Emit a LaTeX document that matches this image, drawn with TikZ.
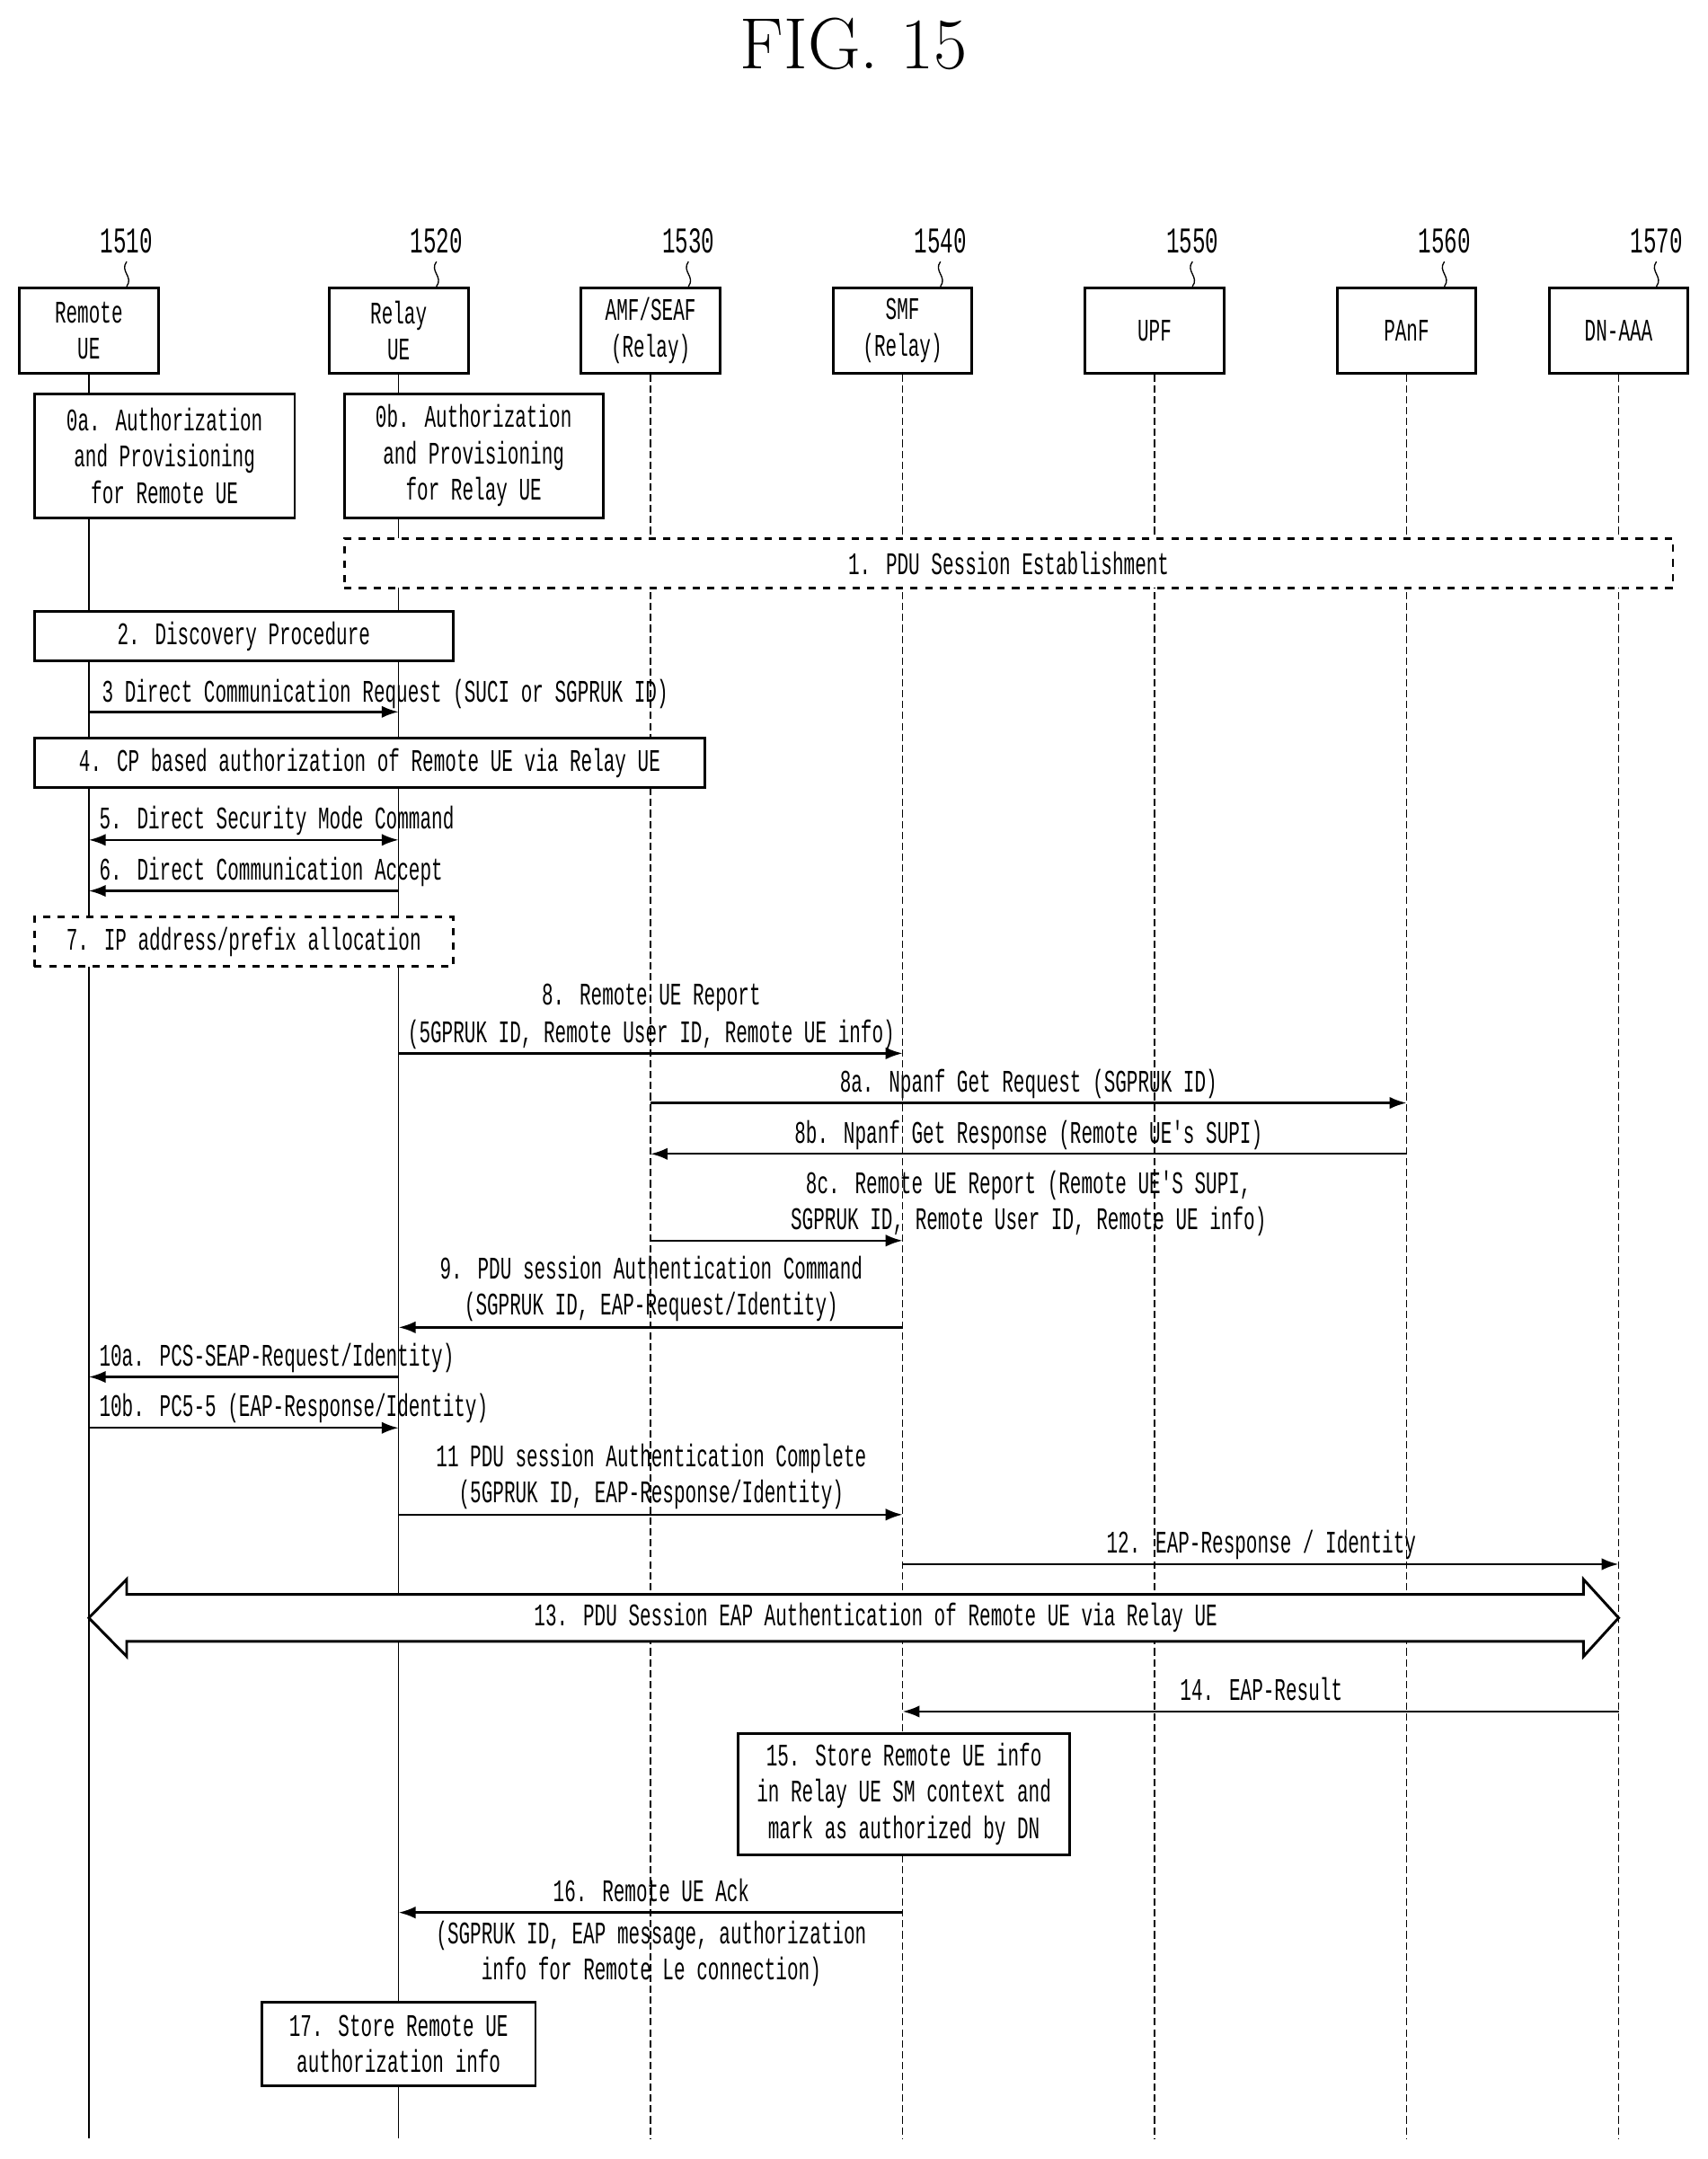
\documentclass[tikz,border=0pt]{standalone}
\usepackage{fontspec}
\newfontfamily\diagfont[FakeStretch=0.6]{Liberation Mono}
\usetikzlibrary{positioning,arrows.meta}
\begin{document}
\begin{tikzpicture}[x=0.02cm,y=-0.02cm,
	every node/.style={font=\diagfont\fontsize{13}{15}\selectfont},
	ent/.style={draw,line width=1.1pt,minimum width=2.02cm,minimum height=1.24cm,align=center,inner sep=0pt},
	stepbox/.style={draw,line width=1pt,align=center,inner sep=0pt},
	lifeA/.style={line width=0.5pt},
	lifeB/.style={line width=0.5pt,dash pattern=on 3pt off 1.5pt},
	msg/.style={line width=0.9pt,-{Latex[length=7pt,width=5pt]}},
	lbl/.style={inner sep=1pt,anchor=base}]
\useasboundingbox (0,0) rectangle (1240,1568);
\fill[white] (0,0) rectangle (1240,1568);
%Title
\node[font=\fontsize{30}{34}\selectfont] (title) at (620,32) {FIG. 15};
%Entities
\node[ent] (h1) at (64.5,240) {Remote\\UE};
\node[ent] (h2) at (289.5,240) {Relay\\UE};
\node[ent] (h3) at (472.5,240) {AMF/SEAF\\(Relay)};
\node[ent] (h4) at (655.5,240) {SMF\\(Relay)};
\node[ent] (h5) at (838.5,240) {UPF};
\node[ent] (h6) at (1021.5,240) {PAnF};
\node[ent] (h7) at (1175.5,240) {DN-AAA};
%Reference numbers
\foreach \n/\x in {h1/1510,h2/1520,h3/1530,h4/1540,h5/1550,h6/1560,h7/1570} {
	\node[font=\fontsize{15}{17}\selectfont\diagfont,anchor=south] (n\n) at ([xshift=0.55cm]\n.north |- 0,190) {\x};
	\draw[line width=0.5pt] (n\n.south) .. controls ([xshift=-3pt,yshift=-4pt]n\n.south) and ([xshift=3pt,yshift=4pt]\n.north -| n\n.south) .. (\n.north -| n\n.south);
}
%Lifelines
\coordinate (b1) at (h1.south |- 0,1553);
\coordinate (b2) at (h2.south |- 0,1553);
\draw[lifeA] (h1.south) -- (b1);
\draw[lifeA] (h2.south) -- (b2);
\foreach \i in {3,...,7} {
	\draw[lifeB] (h\i.south) -- (h\i.south |- 0,1553);
}
%0a and 0b
\node[stepbox,fill=white,minimum width=3.78cm,minimum height=1.8cm] (s0a) at (119.5,331) {0a. Authorization\\and Provisioning\\for Remote UE};
\node[stepbox,fill=white,minimum width=3.76cm,minimum height=1.8cm] (s0b) at (344,331) {0b. Authorization\\and Provisioning\\for Relay UE};
%1
\node[stepbox,dashed,fill=white,minimum width=19.3cm,minimum height=0.72cm] (s1) at (732.5,409) {1. PDU Session Establishment};
%2
\node[stepbox,fill=white,minimum width=6.08cm,minimum height=0.72cm] (s2) at (177,462) {2. Discovery Procedure};
%3
\draw[msg] (h1 |- 0,517) -- (h2 |- 0,517);
\node[lbl,anchor=base west] (t3) at (72,510) {3 Direct Communication Request (SUCI or SGPRUK ID)};
%4
\node[stepbox,fill=white,minimum width=9.74cm,minimum height=0.72cm] (s4) at (268.5,554) {4. CP based authorization of Remote UE via Relay UE};
%5
\draw[msg,{Latex[length=7pt,width=5pt]}-{Latex[length=7pt,width=5pt]}] (h1 |- 0,610) -- (h2 |- 0,610);
\node[lbl,anchor=base west] (t5) at (70,602) {5. Direct Security Mode Command};
%6
\draw[msg] (h2 |- 0,647) -- (h1 |- 0,647);
\node[lbl,anchor=base west] (t6) at (70,639) {6. Direct Communication Accept};
%7
\node[stepbox,dashed,fill=white,minimum width=6.08cm,minimum height=0.72cm] (s7) at (177,684) {7. IP address/prefix allocation};
%8
\draw[msg] (h2 |- 0,765) -- (h4 |- 0,765);
\node[lbl] (t8) at (473,730) {8. Remote UE Report};
\node[lbl] (t8b) at (473,757) {(5GPRUK ID, Remote User ID, Remote UE info)};
%8a
\draw[msg] (h3 |- 0,801) -- (h6 |- 0,801);
\node[lbl] (t8a) at (747,793) {8a. Npanf Get Request (SGPRUK ID)};
%8b
\draw[msg] (h6 |- 0,838) -- (h3 |- 0,838);
\node[lbl] (t8bb) at (747,830) {8b. Npanf Get Response (Remote UE's SUPI)};
%8c
\draw[msg] (h3 |- 0,901) -- (h4 |- 0,901);
\node[lbl] (t8c) at (747,867) {8c. Remote UE Report (Remote UE'S SUPI,};
\node[lbl] (t8c2) at (747,893) {SGPRUK ID, Remote User ID, Remote UE info)};
%9
\draw[msg] (h4 |- 0,964) -- (h2 |- 0,964);
\node[lbl] (t9) at (473,929) {9. PDU session Authentication Command};
\node[lbl] (t9b) at (473,955) {(SGPRUK ID, EAP-Request/Identity)};
%10a
\draw[msg] (h2 |- 0,1000) -- (h1 |- 0,1000);
\node[lbl,anchor=base west] (t10a) at (70,992) {10a. PCS-SEAP-Request/Identity)};
%10b
\draw[msg] (h1 |- 0,1037) -- (h2 |- 0,1037);
\node[lbl,anchor=base west] (t10b) at (70,1029) {10b. PC5-5 (EAP-Response/Identity)};
%11
\draw[msg] (h2 |- 0,1100) -- (h4 |- 0,1100);
\node[lbl] (t11) at (473,1065) {11 PDU session Authentication Complete};
\node[lbl] (t11b) at (473,1091) {(5GPRUK ID, EAP-Response/Identity)};
%12
\draw[msg] (h4 |- 0,1136) -- (h7 |- 0,1136);
\node[lbl] (t12) at (916,1128) {12. EAP-Response / Identity};
%13 big double arrow
\draw[line width=1.1pt,fill=white] (h1 |- 0,1175) -- (92,1147) -- (92,1158) -- (1150,1158) -- (1150,1147) -- (h7 |- 0,1175) -- (1150,1203) -- (1150,1192) -- (92,1192) -- (92,1203) -- cycle;
\node (t13) at (636,1175) {13. PDU Session EAP Authentication of Remote UE via Relay UE};
%14
\draw[msg] (h7 |- 0,1243) -- (h4 |- 0,1243);
\node[lbl] (t14) at (916,1235) {14. EAP-Result};
%15
\node[stepbox,fill=white,minimum width=4.82cm,minimum height=1.76cm] (s15) at (656.5,1303) {15. Store Remote UE info\\in Relay UE SM context and\\mark as authorized by DN};
%16
\draw[msg] (h4 |- 0,1389) -- (h2 |- 0,1389);
\node[lbl] (t16) at (473,1381) {16. Remote UE Ack};
\node[lbl] (t16b) at (473,1412) {(SGPRUK ID, EAP message, authorization};
\node[lbl] (t16c) at (473,1438) {info for Remote Le connection)};
%17
\node[stepbox,fill=white,minimum width=3.98cm,minimum height=1.22cm] (s17) at (289.5,1484.5) {17. Store Remote UE\\authorization info};
\end{tikzpicture}
\end{document}
